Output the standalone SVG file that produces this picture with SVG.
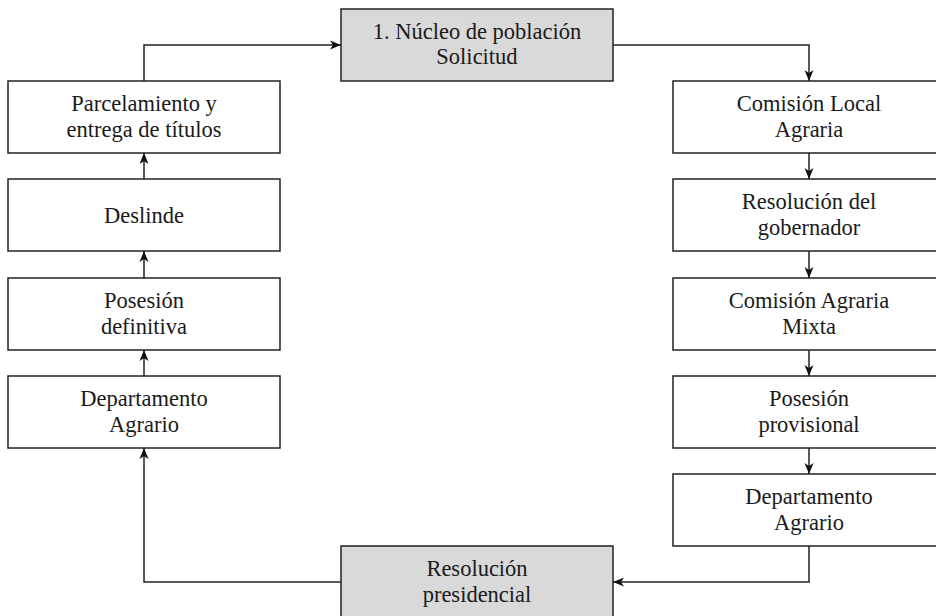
<svg xmlns="http://www.w3.org/2000/svg" width="936" height="616" viewBox="0 0 936 616">
<style>
.box{fill:#ffffff;stroke:#222222;stroke-width:1.5}
.hl{fill:#d9d9d9;stroke:#222222;stroke-width:1.5}
.t{font-family:"Liberation Serif","DejaVu Serif",serif;font-size:22.5px;fill:#1a1a1a;text-anchor:middle}
.c{fill:none;stroke:#222222;stroke-width:1.5}
</style>
<defs>
<marker id="ah" markerUnits="userSpaceOnUse" markerWidth="12" markerHeight="10" refX="11" refY="5" orient="auto" viewBox="0 0 12 10">
<path d="M0,0.5 L11,5 L0,9.5 L3,5 Z" fill="#111111"/>
</marker>
</defs>
<g id="connectors">
<path class="c" d="M144,81 V45 H341" marker-end="url(#ah)"/>
<path class="c" d="M613,45 H809 V81" marker-end="url(#ah)"/>
<path class="c" d="M809,153 V179" marker-end="url(#ah)"/>
<path class="c" d="M809,251 V278" marker-end="url(#ah)"/>
<path class="c" d="M809,350 V376" marker-end="url(#ah)"/>
<path class="c" d="M809,448 V474" marker-end="url(#ah)"/>
<path class="c" d="M809,546 V582 H613" marker-end="url(#ah)"/>
<path class="c" d="M341,582 H144 V448" marker-end="url(#ah)"/>
<path class="c" d="M144,376 V350" marker-end="url(#ah)"/>
<path class="c" d="M144,278 V251" marker-end="url(#ah)"/>
<path class="c" d="M144,179 V153" marker-end="url(#ah)"/>
</g>
<g id="n-nucleo">
<rect class="hl" x="341" y="9" width="272" height="72"/>
<text class="t" x="477" y="39">1. Núcleo de población</text>
<text class="t" x="477" y="64">Solicitud</text>
</g>
<g id="n-comision-local">
<rect class="box" x="673" y="81" width="272" height="72"/>
<text class="t" x="809" y="111">Comisión Local</text>
<text class="t" x="809" y="137">Agraria</text>
</g>
<g id="n-resolucion-gob">
<rect class="box" x="673" y="179" width="272" height="72"/>
<text class="t" x="809" y="209">Resolución del</text>
<text class="t" x="809" y="235">gobernador</text>
</g>
<g id="n-comision-mixta">
<rect class="box" x="673" y="278" width="272" height="72"/>
<text class="t" x="809" y="308">Comisión Agraria</text>
<text class="t" x="809" y="334">Mixta</text>
</g>
<g id="n-posesion-prov">
<rect class="box" x="673" y="376" width="272" height="72"/>
<text class="t" x="809" y="406">Posesión</text>
<text class="t" x="809" y="432">provisional</text>
</g>
<g id="n-depto-der">
<rect class="box" x="673" y="474" width="272" height="72"/>
<text class="t" x="809" y="504">Departamento</text>
<text class="t" x="809" y="530">Agrario</text>
</g>
<g id="n-resolucion-pres">
<rect class="hl" x="341" y="546" width="272" height="72"/>
<text class="t" x="477" y="576">Resolución</text>
<text class="t" x="477" y="602">presidencial</text>
</g>
<g id="n-depto-izq">
<rect class="box" x="8" y="376" width="272" height="72"/>
<text class="t" x="144" y="406">Departamento</text>
<text class="t" x="144" y="432">Agrario</text>
</g>
<g id="n-posesion-def">
<rect class="box" x="8" y="278" width="272" height="72"/>
<text class="t" x="144" y="308">Posesión</text>
<text class="t" x="144" y="334">definitiva</text>
</g>
<g id="n-deslinde">
<rect class="box" x="8" y="179" width="272" height="72"/>
<text class="t" x="144" y="223">Deslinde</text>
</g>
<g id="n-parcelamiento">
<rect class="box" x="8" y="81" width="272" height="72"/>
<text class="t" x="144" y="111">Parcelamiento y</text>
<text class="t" x="144" y="137">entrega de títulos</text>
</g>
</svg>
